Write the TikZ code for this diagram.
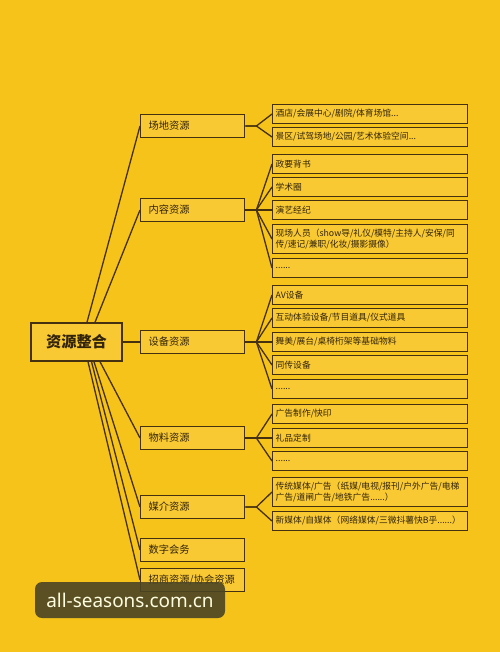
\documentclass[tikz,border=0pt]{standalone}
\usepackage{fontspec}
\setmainfont{Noto Sans CJK SC}
\newfontfamily\wmfont{Noto Sans}
\usepackage{tikz}

\definecolor{bgyellow}{HTML}{F6C31B}
\definecolor{boxyellow}{HTML}{F8C932}
\definecolor{edge}{HTML}{45300F}
\definecolor{ink}{HTML}{33240C}
\definecolor{wmdark}{HTML}{4A4424}

\begin{document}
\begin{tikzpicture}[x=1bp, y=-1bp,
    box/.style={draw=edge, fill=boxyellow, line width=1.4bp, text=ink},
    rootbox/.style={box, minimum width=91bp, minimum height=38bp,
        font=\bfseries\fontsize{15.3}{17}\selectfont},
    groupbox/.style={box, anchor=west, minimum height=23bp, text width=88bp,
        inner xsep=8bp, align=left, font=\fontsize{10.3}{12}\selectfont},
    leafbox/.style={box, anchor=west, minimum height=19bp, text width=189bp,
        inner xsep=3bp, inner ysep=2bp, align=left,
        font=\fontsize{8.8}{11.3}\selectfont},
    tallbox/.style={leafbox, minimum height=29bp},
    link/.style={draw=edge, line width=1.3bp}]

    \fill[bgyellow] (0,0) rectangle (500,652);
    \useasboundingbox (0,0) rectangle (500,652);

    % root and groups
    \node[rootbox] (root) at (76.5,342) {资源整合};
    \node[groupbox] (venue) at (140,126) {场地资源};
    \node[groupbox] (content) at (140,210) {内容资源};
    \node[groupbox] (equip) at (140,342) {设备资源};
    \node[groupbox] (material) at (140,438) {物料资源};
    \node[groupbox] (media) at (140,507) {媒介资源};
    \node[groupbox] (digital) at (140,550) {数字会务};
    \node[groupbox] (invest) at (140,580) {招商资源/协会资源};

    % leaves
    \node[leafbox] (v1) at (272,114) {酒店/会展中心/剧院/体育场馆...};
    \node[leafbox] (v2) at (272,137) {景区/试驾场地/公园/艺术体验空间...};
    \node[leafbox] (c1) at (272,164) {政要背书};
    \node[leafbox] (c2) at (272,187) {学术圈};
    \node[leafbox] (c3) at (272,210) {演艺经纪};
    \node[tallbox] (c4) at (272,239) {现场人员（show导/礼仪/模特/主持人/安保/同\\传/速记/兼职/化妆/摄影摄像）};
    \node[leafbox] (c5) at (272,268) {......};
    \node[leafbox] (e1) at (272,295) {AV设备};
    \node[leafbox] (e2) at (272,318) {互动体验设备/节目道具/仪式道具};
    \node[leafbox] (e3) at (272,342) {舞美/展台/桌椅桁架等基础物料};
    \node[leafbox] (e4) at (272,365) {同传设备};
    \node[leafbox] (e5) at (272,389) {......};
    \node[leafbox] (m1) at (272,414) {广告制作/快印};
    \node[leafbox] (m2) at (272,438) {礼品定制};
    \node[leafbox] (m3) at (272,461) {......};
    \node[tallbox] (d1) at (272,492) {传统媒体/广告（纸媒/电视/报刊/户外广告/电梯\\广告/道闸广告/地铁广告......）};
    \node[leafbox] (d2) at (272,521) {新媒体/自媒体（网络媒体/三微抖薯快B乎......）};

    % root to groups
    \draw[link] ([xshift=10.5bp]root.north) -- (venue.west);
    \draw[link] ([xshift=18.5bp]root.north) -- (content.west);
    \draw[link] (root.east) -- (equip.west);
    \draw[link] ([xshift=23.5bp]root.south) -- (material.west);
    \draw[link] ([xshift=17.5bp]root.south) -- (media.west);
    \draw[link] ([xshift=15bp]root.south) -- (digital.west);
    \draw[link] ([xshift=11.5bp]root.south) -- (invest.west);

    % groups to leaves
    \foreach \g/\l in {venue/v1, venue/v2,
        content/c1, content/c2, content/c3, content/c4, content/c5,
        equip/e1, equip/e2, equip/e3, equip/e4, equip/e5,
        material/m1, material/m2, material/m3,
        media/d1, media/d2}
        \draw[link] (\g.east) -- ++(11,0) -- (\l.west);

    % watermark
    \fill[wmdark, opacity=0.9, rounded corners=7bp] (35,582) rectangle (225,618);
    \node[text=white!88!yellow, font=\wmfont\fontsize{19}{21}\selectfont] (mark) at (130,600) {all-seasons.com.cn};
\end{tikzpicture}
\end{document}
